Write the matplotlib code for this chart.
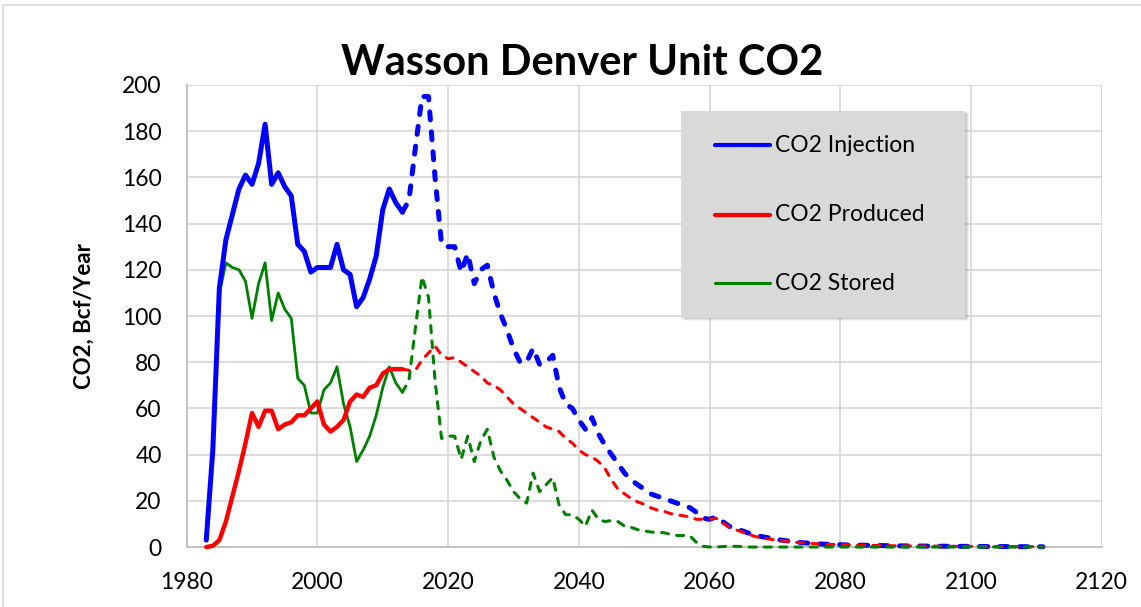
import matplotlib
matplotlib.use("Agg")
import matplotlib.pyplot as plt
from matplotlib.lines import Line2D
from matplotlib.patches import Rectangle

plt.rcParams['font.family'] = ['Lato', 'DejaVu Sans']

# historical (solid) 1983-2013
years_hist = list(range(1983, 2014))
inj_hist = [3, 42, 112, 133, 144, 155, 161, 157, 166, 183,
            157, 162, 156, 152, 131, 128, 119, 121, 121, 121,
            131, 120, 118, 104, 108, 116, 126, 146, 155, 149,
            145]
prod_hist = [0, 0.5, 3, 11, 22, 33, 45, 58, 52, 59,
             59, 51, 53, 54, 57, 57, 60, 63, 53, 50,
             52, 55, 63, 66, 65, 69, 70, 75, 77, 77,
             77]
stored_hist = [3, 42, 110, 123, 121, 120, 115, 99, 114, 123,
               98, 110, 103, 99, 73, 70, 58, 58, 68, 71,
               78, 62, 52, 37, 42, 48, 57, 69, 78, 71,
               67]

# forecast (dashed) 2013-2111
years_proj = list(range(2013, 2112))
inj_proj = [145, 150, 173, 195, 195, 160, 131, 130, 130, 119,
            127, 114, 120, 122, 110, 101, 94, 86, 80, 80,
            86, 79, 80, 83, 69, 62, 60, 55, 51, 56,
            49, 44, 40, 36, 32, 29, 27, 25, 23, 22,
            21, 20, 19, 18, 17, 15, 12.5, 12, 13, 11,
            9, 8, 7, 6, 5, 4.5, 4, 3.3, 3, 2.6,
            2.2, 1.9, 1.7, 1.5, 1.3, 1.2, 1.1, 1.0, 0.9, 0.85,
            0.8, 0.75, 0.7, 0.65, 0.6, 0.55, 0.5, 0.5, 0.45, 0.45,
            0.4, 0.4, 0.35, 0.35, 0.3, 0.3, 0.3, 0.25, 0.25, 0.25,
            0.2, 0.2, 0.2, 0.2, 0.15, 0.15, 0.15, 0.15, 0.1]
prod_proj = [77, 76.5, 76.5, 81, 84, 87, 83, 81.5, 82, 80,
             78, 76, 74, 71, 70, 68, 65, 62, 60, 58,
             56, 54, 52, 51, 50, 47, 45, 42, 40, 39,
             37, 34, 29, 25, 23, 21, 19.5, 18.5, 17, 16,
             15.5, 14.5, 14, 13.5, 13, 12, 12, 12, 12.5, 10.5,
             8.5, 7.5, 6.5, 5.5, 4.5, 4, 3.5, 3.1, 2.8, 2.5,
             2.1, 1.9, 1.7, 1.5, 1.3, 1.2, 1.1, 1.0, 0.9, 0.85,
             0.8, 0.75, 0.7, 0.65, 0.6, 0.55, 0.5, 0.5, 0.45, 0.45,
             0.4, 0.4, 0.35, 0.35, 0.3, 0.3, 0.3, 0.25, 0.25, 0.25,
             0.2, 0.2, 0.2, 0.2, 0.15, 0.15, 0.15, 0.15, 0.1]
stored_proj = [67, 72, 95, 117, 108, 72, 47, 48, 48, 38,
               48, 37, 46, 51, 39, 33, 29, 24, 21, 19,
               32, 24, 27, 30, 18, 14, 14, 12, 9, 16,
               12, 11, 11.5, 11, 9, 8.5, 7.5, 7, 6.5, 6.3,
               6.2, 5.5, 5, 5, 4.8, 2, 0.3, 0, 0, 0.2,
               0.4, 0.3, 0.2, 0, 0, 0, 0, 0, 0, 0,
               0, 0, 0, 0, 0, 0, 0, 0, 0, 0,
               0, 0, 0, 0, 0, 0, 0, 0, 0, 0,
               0, 0, 0, 0, 0, 0, 0, 0, 0, 0,
               0, 0, 0, 0, 0, 0, 0, 0, 0]

labels = ['CO2 Injection', 'CO2 Produced', 'CO2 Stored']
colors = ['#0000FF', '#FF0000', '#008000']
grid_color = '#d9d9d9'

fig = plt.figure(figsize=(11.41, 6.07), dpi=100)
ax = fig.add_axes([0.1636, 0.0988, 0.8020, 0.7612])

common = dict(solid_joinstyle='round', solid_capstyle='round',
              dash_capstyle='round', dash_joinstyle='round', clip_on=False)

ax.plot(years_hist, stored_hist, color=colors[2], lw=2.0, zorder=4, **common)
ax.plot(years_hist, prod_hist, color=colors[1], lw=3.2, zorder=5, **common)
ax.plot(years_hist, inj_hist, color=colors[0], lw=3.6, zorder=6, **common)

ax.plot(years_proj, inj_proj, color=colors[0], lw=3.6, ls=(0, (1.6, 2.4)), zorder=4, **common)
ax.plot(years_proj, prod_proj, color=colors[1], lw=2.2, ls=(0, (2.3, 2.7)), zorder=5, **common)
ax.plot(years_proj, stored_proj, color=colors[2], lw=2.2, ls=(0, (2.3, 2.7)), zorder=6, **common)

ax.set_xlim(1980, 2120)
ax.set_ylim(0, 200)
ax.set_xticks(range(1980, 2121, 20))
ax.set_yticks(range(0, 201, 20))
ax.grid(True, color=grid_color, lw=1.3, zorder=0)
ax.set_axisbelow(True)
for side in ['top', 'right']:
    ax.spines[side].set_visible(False)
for side in ['left', 'bottom']:
    ax.spines[side].set_color('#bfbfbf')
    ax.spines[side].set_linewidth(1.3)
ax.tick_params(length=0, pad=18, labelsize=16.5)

ax.set_ylabel('CO2, Bcf/Year', fontsize=16, fontweight='bold')
ax.yaxis.set_label_coords(-0.100, 0.5)

fig.text(0.510, 0.877, 'Wasson Denver Unit CO2', ha='center', va='baseline',
         fontsize=30, fontweight='bold')

# legend box drawn by hand to match the spreadsheet look
lx, ly, lw_, lh = 0.540, 0.496, 0.311, 0.448
for off, a in [(0.007, 0.10), (0.005, 0.15), (0.003, 0.2)]:
    ax.add_patch(Rectangle((lx + off * 0.6, ly - off), lw_, lh, transform=ax.transAxes,
                           facecolor='#808080', alpha=a, edgecolor='none', zorder=9, clip_on=False))
ax.add_patch(Rectangle((lx, ly), lw_, lh, transform=ax.transAxes,
                       facecolor='#d9d9d9', edgecolor='none', zorder=10))
entry_y = [0.870, 0.719, 0.571]
handle_w = [3.0, 3.0, 2.2]
for lab, col, yy, hw in zip(labels, colors, entry_y, handle_w):
    ax.add_line(Line2D([0.577, 0.6375], [yy, yy], transform=ax.transAxes, color=col,
                       lw=hw, solid_capstyle='round', zorder=11))
    ax.text(0.643, yy, lab, transform=ax.transAxes, va='center', ha='left',
            fontsize=16.5, zorder=11)

# chart area border (top and left visible in the crop)
fig.add_artist(Line2D([3 / 1141, 1], [1 - 5 / 607, 1 - 5 / 607], color=grid_color, lw=1.2))
fig.add_artist(Line2D([3 / 1141, 3 / 1141], [0, 1 - 5 / 607], color=grid_color, lw=1.2))

fig.savefig('out.png', dpi=100)
